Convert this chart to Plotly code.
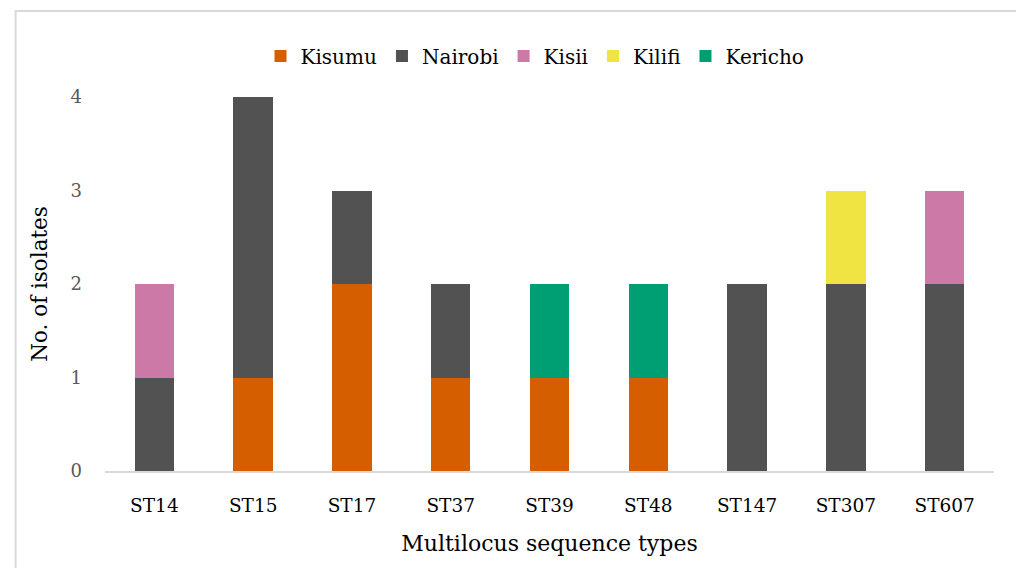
import plotly.graph_objects as go

categories = ["ST14", "ST15", "ST17", "ST37", "ST39", "ST48", "ST147", "ST307", "ST607"]
kisumu = [0, 1, 2, 1, 1, 1, 0, 0, 0]
nairobi = [1, 3, 1, 1, 0, 0, 2, 2, 2]
kisii = [1, 0, 0, 0, 0, 0, 0, 0, 1]
kilifi = [0, 0, 0, 0, 0, 0, 0, 1, 0]
kericho = [0, 0, 0, 0, 1, 1, 0, 0, 0]
y_ticks = [0, 1, 2, 3, 4]

series = [
    ("Kisumu", kisumu, "#D55E00"),
    ("Nairobi", nairobi, "#525252"),
    ("Kisii", kisii, "#CC79A7"),
    ("Kilifi", kilifi, "#F0E442"),
    ("Kericho", kericho, "#009E73"),
]

FONT = "DejaVu Serif, Liberation Serif, serif"

fig = go.Figure()
for name, vals, color in series:
    fig.add_trace(go.Bar(x=categories, y=vals, name=name, marker=dict(color=color, line=dict(width=0)),
                         width=0.4))

# page body has an 8px offset; work in screen pixels and shift
OFF = 8
W, H = 1024 - OFF, 568 - OFF
l, r, t, b = 104.5 - OFF, 1024 - 994.5, 97 - OFF, 568 - 471
pw, ph = W - l - r, H - t - b

def px_x(p):
    return (p - OFF - l) / pw

def px_y(p):
    return (H - b - (p - OFF)) / ph

fig.update_layout(
    width=W, height=H,
    barmode="stack",
    margin=dict(l=l, r=r, t=t, b=b),
    paper_bgcolor="white", plot_bgcolor="white",
    font=dict(family=FONT, color="#000000"),
    legend=dict(orientation="h", x=px_x(535), xanchor="center", y=px_y(56), yanchor="middle",
                font=dict(size=20, color="#000000"), traceorder="normal",
                itemwidth=30, itemsizing="constant"),
    xaxis=dict(showline=True, linecolor="#d9d9d9", linewidth=1.5, showgrid=False,
               ticks="", tickfont=dict(size=18.5, color="#000000"), ticklabelstandoff=17,
               title=dict(text="Multilocus sequence types", font=dict(size=22, color="#000000"), standoff=21)),
    yaxis=dict(range=[0, 4], tickvals=y_ticks, showgrid=False, zeroline=False, showline=False,
               tickfont=dict(size=18, color="#595959"), ticklabelstandoff=22,
               title=dict(text="No. of isolates", font=dict(size=21.5, color="#000000"), standoff=17)),
    shapes=[dict(type="rect", xref="paper", yref="paper",
                 x0=px_x(15), x1=px_x(1022), y0=px_y(590), y1=px_y(11),
                 line=dict(color="#d9d9d9", width=2), fillcolor="rgba(0,0,0,0)", layer="below")],
)

fig.write_html("out.html")
